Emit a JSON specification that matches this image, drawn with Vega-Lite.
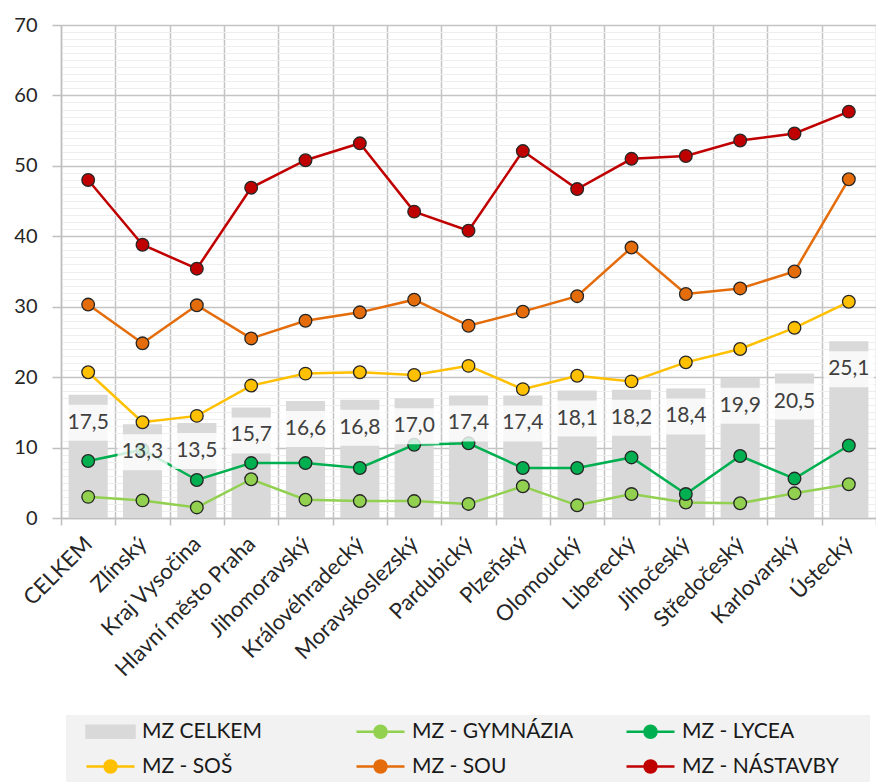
{
  "$schema": "https://vega.github.io/schema/vega-lite/v6.json",
  "width": 815,
  "height": 493,
  "autosize": {"type": "none"},
  "padding": {"left": 61, "top": 25, "right": 0, "bottom": 264},
  "config": {
    "font": "Lato",
    "view": {"stroke": null},
    "locale": {"number": {"decimal": ",", "thousands": " ", "grouping": [3], "currency": ["", " Kč"]}}
  },
  "data": {"values": [
    {"region":"CELKEM","series":"MZ CELKEM","value":17.5},
    {"region":"Zlínský","series":"MZ CELKEM","value":13.3},
    {"region":"Kraj Vysočina","series":"MZ CELKEM","value":13.5},
    {"region":"Hlavní město Praha","series":"MZ CELKEM","value":15.7},
    {"region":"Jihomoravský","series":"MZ CELKEM","value":16.6},
    {"region":"Královéhradecký","series":"MZ CELKEM","value":16.8},
    {"region":"Moravskoslezský","series":"MZ CELKEM","value":17.0},
    {"region":"Pardubický","series":"MZ CELKEM","value":17.4},
    {"region":"Plzeňský","series":"MZ CELKEM","value":17.4},
    {"region":"Olomoucký","series":"MZ CELKEM","value":18.1},
    {"region":"Liberecký","series":"MZ CELKEM","value":18.2},
    {"region":"Jihočeský","series":"MZ CELKEM","value":18.4},
    {"region":"Středočeský","series":"MZ CELKEM","value":19.9},
    {"region":"Karlovarský","series":"MZ CELKEM","value":20.5},
    {"region":"Ústecký","series":"MZ CELKEM","value":25.1},

    {"region":"CELKEM","series":"MZ - GYMNÁZIA","value":3.0},
    {"region":"Zlínský","series":"MZ - GYMNÁZIA","value":2.5},
    {"region":"Kraj Vysočina","series":"MZ - GYMNÁZIA","value":1.5},
    {"region":"Hlavní město Praha","series":"MZ - GYMNÁZIA","value":5.5},
    {"region":"Jihomoravský","series":"MZ - GYMNÁZIA","value":2.6},
    {"region":"Královéhradecký","series":"MZ - GYMNÁZIA","value":2.4},
    {"region":"Moravskoslezský","series":"MZ - GYMNÁZIA","value":2.4},
    {"region":"Pardubický","series":"MZ - GYMNÁZIA","value":2.0},
    {"region":"Plzeňský","series":"MZ - GYMNÁZIA","value":4.5},
    {"region":"Olomoucký","series":"MZ - GYMNÁZIA","value":1.8},
    {"region":"Liberecký","series":"MZ - GYMNÁZIA","value":3.4},
    {"region":"Jihočeský","series":"MZ - GYMNÁZIA","value":2.2},
    {"region":"Středočeský","series":"MZ - GYMNÁZIA","value":2.1},
    {"region":"Karlovarský","series":"MZ - GYMNÁZIA","value":3.5},
    {"region":"Ústecký","series":"MZ - GYMNÁZIA","value":4.8},

    {"region":"CELKEM","series":"MZ - LYCEA","value":8.1},
    {"region":"Zlínský","series":"MZ - LYCEA","value":9.7},
    {"region":"Kraj Vysočina","series":"MZ - LYCEA","value":5.4},
    {"region":"Hlavní město Praha","series":"MZ - LYCEA","value":7.8},
    {"region":"Jihomoravský","series":"MZ - LYCEA","value":7.8},
    {"region":"Královéhradecký","series":"MZ - LYCEA","value":7.1},
    {"region":"Moravskoslezský","series":"MZ - LYCEA","value":10.4},
    {"region":"Pardubický","series":"MZ - LYCEA","value":10.6},
    {"region":"Plzeňský","series":"MZ - LYCEA","value":7.1},
    {"region":"Olomoucký","series":"MZ - LYCEA","value":7.1},
    {"region":"Liberecký","series":"MZ - LYCEA","value":8.6},
    {"region":"Jihočeský","series":"MZ - LYCEA","value":3.4},
    {"region":"Středočeský","series":"MZ - LYCEA","value":8.8},
    {"region":"Karlovarský","series":"MZ - LYCEA","value":5.6},
    {"region":"Ústecký","series":"MZ - LYCEA","value":10.3},

    {"region":"CELKEM","series":"MZ - SOŠ","value":20.7},
    {"region":"Zlínský","series":"MZ - SOŠ","value":13.6},
    {"region":"Kraj Vysočina","series":"MZ - SOŠ","value":14.5},
    {"region":"Hlavní město Praha","series":"MZ - SOŠ","value":18.8},
    {"region":"Jihomoravský","series":"MZ - SOŠ","value":20.5},
    {"region":"Královéhradecký","series":"MZ - SOŠ","value":20.7},
    {"region":"Moravskoslezský","series":"MZ - SOŠ","value":20.3},
    {"region":"Pardubický","series":"MZ - SOŠ","value":21.6},
    {"region":"Plzeňský","series":"MZ - SOŠ","value":18.3},
    {"region":"Olomoucký","series":"MZ - SOŠ","value":20.2},
    {"region":"Liberecký","series":"MZ - SOŠ","value":19.4},
    {"region":"Jihočeský","series":"MZ - SOŠ","value":22.1},
    {"region":"Středočeský","series":"MZ - SOŠ","value":24.0},
    {"region":"Karlovarský","series":"MZ - SOŠ","value":27.0},
    {"region":"Ústecký","series":"MZ - SOŠ","value":30.7},

    {"region":"CELKEM","series":"MZ - SOU","value":30.3},
    {"region":"Zlínský","series":"MZ - SOU","value":24.8},
    {"region":"Kraj Vysočina","series":"MZ - SOU","value":30.2},
    {"region":"Hlavní město Praha","series":"MZ - SOU","value":25.5},
    {"region":"Jihomoravský","series":"MZ - SOU","value":28.0},
    {"region":"Královéhradecký","series":"MZ - SOU","value":29.2},
    {"region":"Moravskoslezský","series":"MZ - SOU","value":31.0},
    {"region":"Pardubický","series":"MZ - SOU","value":27.3},
    {"region":"Plzeňský","series":"MZ - SOU","value":29.3},
    {"region":"Olomoucký","series":"MZ - SOU","value":31.5},
    {"region":"Liberecký","series":"MZ - SOU","value":38.4},
    {"region":"Jihočeský","series":"MZ - SOU","value":31.8},
    {"region":"Středočeský","series":"MZ - SOU","value":32.6},
    {"region":"Karlovarský","series":"MZ - SOU","value":35.0},
    {"region":"Ústecký","series":"MZ - SOU","value":48.1},

    {"region":"CELKEM","series":"MZ - NÁSTAVBY","value":48.0},
    {"region":"Zlínský","series":"MZ - NÁSTAVBY","value":38.8},
    {"region":"Kraj Vysočina","series":"MZ - NÁSTAVBY","value":35.4},
    {"region":"Hlavní město Praha","series":"MZ - NÁSTAVBY","value":46.9},
    {"region":"Jihomoravský","series":"MZ - NÁSTAVBY","value":50.8},
    {"region":"Královéhradecký","series":"MZ - NÁSTAVBY","value":53.2},
    {"region":"Moravskoslezský","series":"MZ - NÁSTAVBY","value":43.5},
    {"region":"Pardubický","series":"MZ - NÁSTAVBY","value":40.8},
    {"region":"Plzeňský","series":"MZ - NÁSTAVBY","value":52.1},
    {"region":"Olomoucký","series":"MZ - NÁSTAVBY","value":46.7},
    {"region":"Liberecký","series":"MZ - NÁSTAVBY","value":51.0},
    {"region":"Jihočeský","series":"MZ - NÁSTAVBY","value":51.4},
    {"region":"Středočeský","series":"MZ - NÁSTAVBY","value":53.6},
    {"region":"Karlovarský","series":"MZ - NÁSTAVBY","value":54.6},
    {"region":"Ústecký","series":"MZ - NÁSTAVBY","value":57.7}
  ]},
  "encoding": {
    "x": {
      "field": "region", "type": "nominal",
      "sort": ["CELKEM","Zlínský","Kraj Vysočina","Hlavní město Praha","Jihomoravský","Královéhradecký","Moravskoslezský","Pardubický","Plzeňský","Olomoucký","Liberecký","Jihočeský","Středočeský","Karlovarský","Ústecký"],
      "scale": {"paddingInner": 0, "paddingOuter": 0},
      "axis": {
        "title": null, "labelAngle": -45, "labelAlign": "right", "labelBaseline": "middle",
        "labelFontSize": 22, "labelColor": "#262626", "labelPadding": 15, "labelLimit": 400,
        "tickBand": "extent", "tickSize": 7, "tickColor": "#bfbfbf", "tickWidth": 1.5,
        "grid": true, "gridColor": "#c4c4c4", "gridWidth": 1.5,
        "domainColor": "#bfbfbf", "domainWidth": 1.5
      }
    },
    "y": {
      "field": "value", "type": "quantitative",
      "scale": {"domain": [0, 70], "nice": false},
      "axis": {
        "title": null,
        "values": [0,1,2,3,4,5,6,7,8,9,10,11,12,13,14,15,16,17,18,19,20,21,22,23,24,25,26,27,28,29,30,31,32,33,34,35,36,37,38,39,40,41,42,43,44,45,46,47,48,49,50,51,52,53,54,55,56,57,58,59,60,61,62,63,64,65,66,67,68,69,70],
        "labelExpr": "datum.value % 10 === 0 ? datum.label : ''",
        "labelFontSize": 20, "labelColor": "#262626", "labelPadding": 15,
        "tickSize": 9, "tickColor": "#bfbfbf", "tickWidth": 1.5,
        "tickOpacity": {"condition": {"test": "datum.value % 10 === 0", "value": 1}, "value": 0},
        "grid": true,
        "gridColor": {"condition": {"test": "datum.value % 10 === 0", "value": "#c4c4c4"}, "value": "#eeeeee"},
        "gridWidth": {"condition": {"test": "datum.value % 10 === 0", "value": 1.5}, "value": 1},
        "domainColor": "#bfbfbf", "domainWidth": 1.5
      }
    },
    "color": {
      "field": "series", "type": "nominal",
      "scale": {
        "domain": ["MZ CELKEM","MZ - GYMNÁZIA","MZ - LYCEA","MZ - SOŠ","MZ - SOU","MZ - NÁSTAVBY"],
        "range": ["#d9d9d9","#92d050","#00b050","#ffc000","#e46c0a","#c00000"]
      },
      "legend": {
        "title": null, "orient": "none", "legendX": 5, "legendY": 690,
        "direction": "horizontal", "columns": 3, "gridAlign": "all",
        "fillColor": "#f2f2f2", "padding": 5, "rowPadding": 12, "columnPadding": 11,
        "labelFontSize": 21, "labelColor": "#1a1a1a", "labelOffset": 20, "labelLimit": 400,
        "labelExpr": "datum.label + '\u00a0\u00a0\u00a0\u00a0\u00a0\u200b'",
        "symbolSize": 400, "symbolStrokeWidth": 2.5, "symbolOffset": 28,
        "symbolType": "M-2.4,0H-0.6M0.6,0H2.4M0.6,0A0.6,0.6,0,1,1,-0.6,0A0.6,0.6,0,1,1,0.6,0",
        "encode": {
          "symbols": {
            "update": {
              "shape": [
                {"test": "datum.value === 'MZ CELKEM'", "value": "M-2.4,-0.6H2.4V0.6H-2.4Z"},
                {"value": "M-2.4,0H-0.6M0.6,0H2.4M0.6,0A0.6,0.6,0,1,1,-0.6,0A0.6,0.6,0,1,1,0.6,0"}
              ],
              "fill": {"scale": "color", "field": "value"},
              "stroke": [
                {"test": "datum.value === 'MZ CELKEM'", "value": "transparent"},
                {"scale": "color", "field": "value"}
              ],
              "strokeWidth": {"value": 2.5},
              "opacity": {"value": 1},
              "fillOpacity": {"value": 1},
              "strokeOpacity": {"value": 1}
            }
          }
        }
      }
    }
  },
  "layer": [
    {
      "transform": [{"filter": "datum.series === 'MZ CELKEM'"}],
      "mark": {"type": "bar", "width": {"band": 0.72}, "opacity": 1}
    },
    {
      "transform": [{"filter": "datum.series !== 'MZ CELKEM'"}],
      "mark": {"type": "line", "strokeWidth": 2.5},
      "encoding": {"order": {"value": null}}
    },
    {
      "transform": [{"filter": "datum.series !== 'MZ CELKEM'"}],
      "mark": {"type": "point", "shape": "circle", "filled": true, "size": 160, "stroke": "#262626", "strokeWidth": 1.3, "opacity": 1}
    },
    {
      "transform": [{"filter": "datum.series === 'MZ CELKEM'"}],
      "mark": {"type": "tick", "orient": "horizontal", "size": 50, "thickness": 36, "yOffset": 28, "opacity": 0.8},
      "encoding": {"color": {"value": "white"}}
    },
    {
      "transform": [{"filter": "datum.series === 'MZ CELKEM'"}],
      "mark": {"type": "text", "fontSize": 21, "baseline": "middle", "align": "center", "yOffset": 28},
      "encoding": {
        "text": {"field": "value", "type": "quantitative", "format": ".1f"},
        "color": {"value": "#404040"}
      }
    }
  ]
}
